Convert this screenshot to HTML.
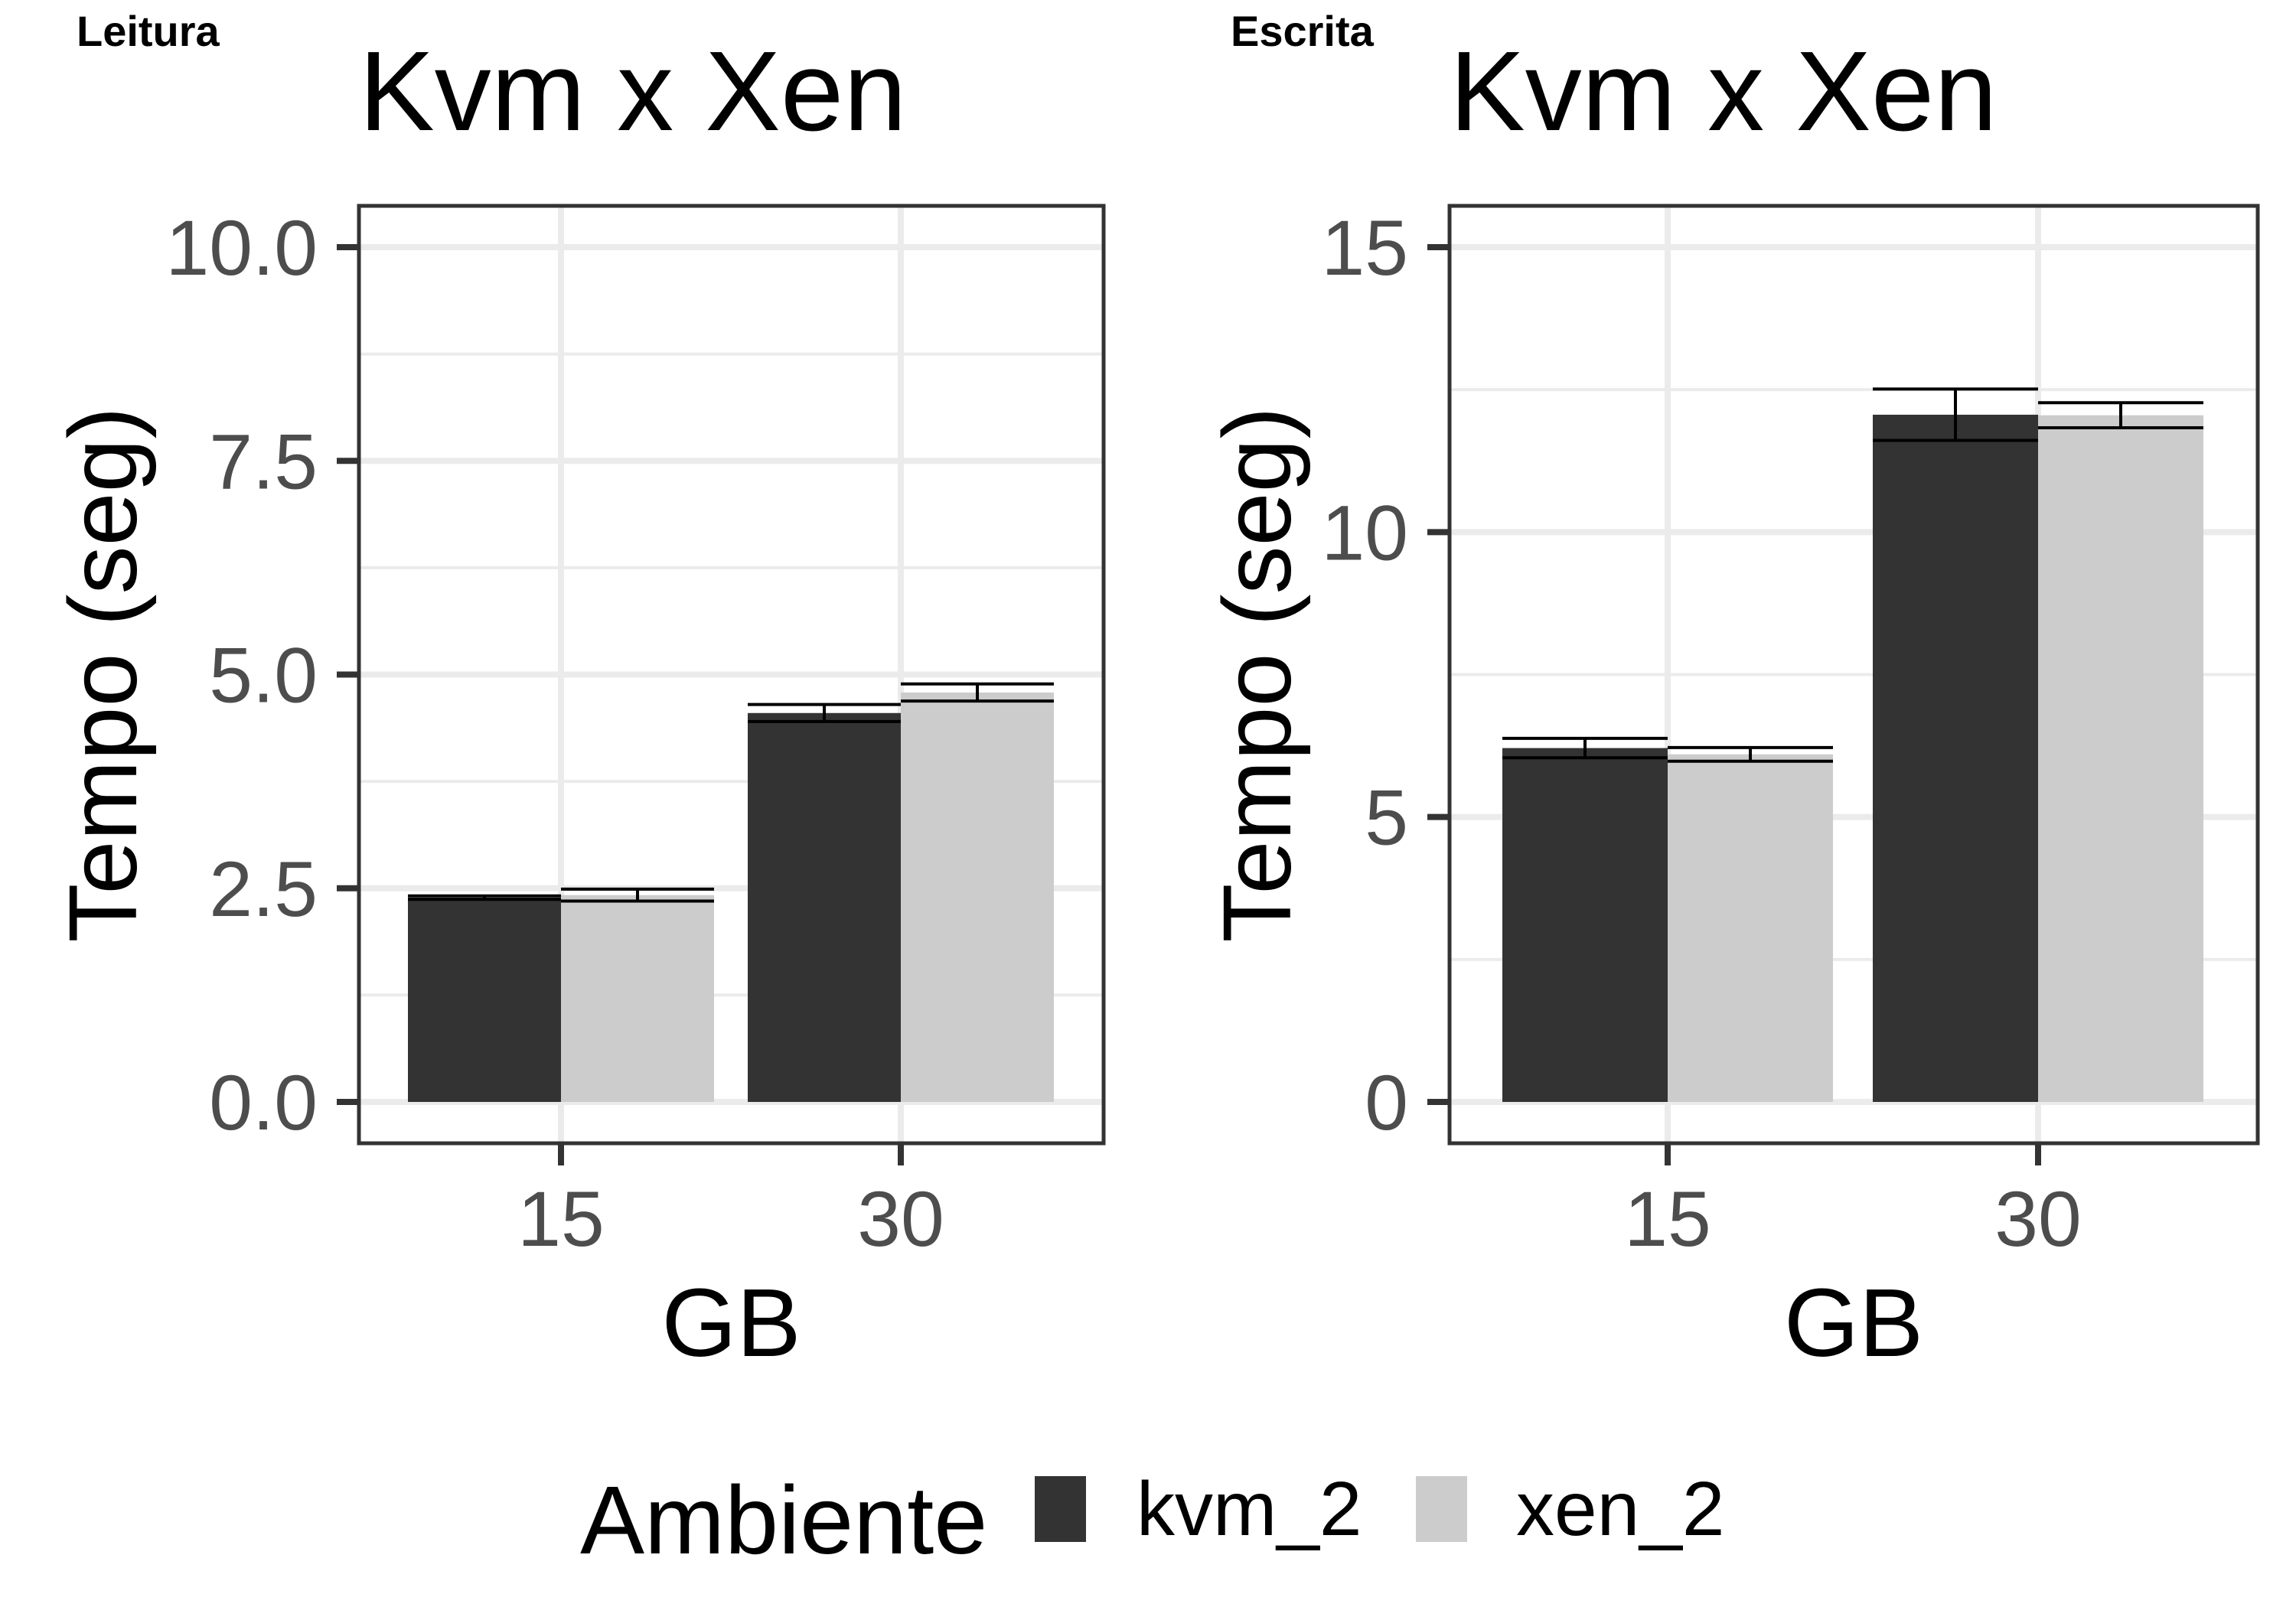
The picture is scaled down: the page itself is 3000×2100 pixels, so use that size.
<!DOCTYPE html>
<html><head><meta charset="utf-8"><style>
html,body{margin:0;padding:0;background:#fff}
svg{display:block;font-family:"Liberation Sans",sans-serif}
</style></head><body>
<svg id="chart" width="3000" height="2100" viewBox="0 0 3000 2100" xmlns="http://www.w3.org/2000/svg">
<rect width="3000" height="2100" fill="#fff"/>
<g id="root"></g>
</svg>
<script>
const categories = ["15","30"];
const leituraKvm = [2.39, 4.55];
const leituraKvmErr = [0.02, 0.1];
const leituraXen = [2.42, 4.79];
const leituraXenErr = [0.07, 0.1];
const escritaKvm = [6.21, 12.06];
const escritaKvmErr = [0.17, 0.45];
const escritaXen = [6.1, 12.05];
const escritaXenErr = [0.12, 0.22];
const leituraTicks = [0, 2.5, 5.0, 7.5, 10.0];
const leituraTickLabels = ["0.0","2.5","5.0","7.5","10.0"];
const escritaTicks = [0, 5, 10, 15];
const escritaTickLabels = ["0","5","10","15"];
const seriesNames = ["kvm_2","xen_2"];

const NS="http://www.w3.org/2000/svg";
const root=document.getElementById('root');
function mk(tag,attrs,parent,text){const e=document.createElementNS(NS,tag);for(const k in attrs)e.setAttribute(k,attrs[k]);if(text!==undefined)e.textContent=text;(parent||root).appendChild(e);return e;}

function panel(cfg){
  const g=mk('g',{});
  
  
  const {x0,x1,yTop,yBot,ymin}=cfg;
  const y0px=1440, ytop=323;
  const ys=v=>y0px-(v-ymin)/(cfg.tmax-ymin)*(y0px-ytop);
  const xs=i=>cfg.cx[i];
  const step=cfg.ticks[1]-cfg.ticks[0];
  for(let i=0;i<cfg.ticks.length;i++){
    const m=cfg.ticks[i]+step/2;
    if(ys(m)<=yTop) continue;
    const l=mk('line',{x1:x0,x2:x1,y1:ys(m),y2:ys(m),stroke:'#ebebeb','stroke-width':4},g);
    
    
  }
  cfg.ticks.forEach((t,i)=>{
    const l=mk('line',{x1:x0,x2:x1,y1:ys(t),y2:ys(t),stroke:'#ebebeb','stroke-width':8},g);
    
    
    const tk=mk('line',{x1:x0-29,x2:x0,y1:ys(t),y2:ys(t),stroke:'#333','stroke-width':8},g);
    
    
    const tl=mk('text',{x:x0-54,y:ys(t)+36,'text-anchor':'end','font-size':102,fill:'#4d4d4d'},g,cfg.labels[i]);
    
    
  });
  categories.forEach((c,i)=>{
    const l=mk('line',{x1:xs(i),x2:xs(i),y1:yTop,y2:yBot,stroke:'#ebebeb','stroke-width':8},g);
    
    
  });
  const bw=cfg.bw;
  const sets=[[cfg.kvm,cfg.kvmErr,'#333333',-1],[cfg.xen,cfg.xenErr,'#cccccc',0]];
  sets.forEach(([vals,errs,col,off],si)=>{
    vals.forEach((v,i)=>{
      const bx=xs(i)+off*bw;
      const r=mk('rect',{x:bx,y:ys(v),width:bw,height:ys(0)-ys(v),fill:col},g);
      
      
      const cx=bx+bw/2, hi=ys(v+errs[i]), lo=ys(v-errs[i]);
      const e=mk('path',{d:`M${bx} ${hi}H${bx+bw}M${cx} ${hi}V${lo}M${bx} ${lo}H${bx+bw}`,stroke:'#000','stroke-width':4,fill:'none'},g);
      
      
    });
  });
  const b=mk('rect',{x:x0,y:yTop,width:x1-x0,height:yBot-yTop,fill:'none',stroke:'#333','stroke-width':5},g);
  
  
  categories.forEach((c,i)=>{
    const tk=mk('line',{x1:xs(i),x2:xs(i),y1:yBot,y2:yBot+29,stroke:'#333','stroke-width':8},g);
    
    
    const tl=mk('text',{x:xs(i),y:1628,'text-anchor':'middle','font-size':102,fill:'#4d4d4d'},g,c);
    
    
  });
  const xt=mk('text',{x:(x0+x1)/2,y:1772,'text-anchor':'middle','font-size':126,fill:'#000'},g,'GB');
  
  
  const yt=mk('text',{x:0,y:0,'text-anchor':'middle','font-size':126,fill:'#000',transform:`translate(${cfg.ytx},${(yTop+yBot)/2}) rotate(-90)`},g,'Tempo (seg)');
  
  
  const t=mk('text',{x:x0,y:170,'font-size':148,fill:'#000'},g,'Kvm x Xen');
  
  
  const tg=mk('text',{x:cfg.tagx,y:60,'font-size':56,'font-weight':'bold',fill:'#000'},g,cfg.tag);
  
  
}

panel({name:'leitura',x0:469,x1:1442,yTop:269,yBot:1494,ymin:0,tmax:10,ticks:leituraTicks,labels:leituraTickLabels,
  cx:[733,1177],bw:200,kvm:leituraKvm,kvmErr:leituraKvmErr,xen:leituraXen,xenErr:leituraXenErr,ytx:178,tag:'Leitura',tagx:100});
panel({name:'escrita',x0:1894,x1:2950,yTop:269,yBot:1494,ymin:0,tmax:15,ticks:escritaTicks,labels:escritaTickLabels,
  cx:[2179,2663],bw:216,kvm:escritaKvm,kvmErr:escritaKvmErr,xen:escritaXen,xenErr:escritaXenErr,ytx:1686,tag:'Escrita',tagx:1608});

const lg=mk('g',{});


const lt=mk('text',{x:758,y:2030,'font-size':126,fill:'#000'},lg,'Ambiente');


const keyX=[1352,1850], txtX=[1485,1981], keyCol=['#333333','#cccccc'];
seriesNames.forEach((s,i)=>{
  const k=mk('rect',{x:keyX[i],y:1929,width:67,height:86,fill:keyCol[i]},lg);
  
  
  const t=mk('text',{x:txtX[i],y:2006,'font-size':100,fill:'#000'},lg,s);
  
  
});
</script>
</body></html>
